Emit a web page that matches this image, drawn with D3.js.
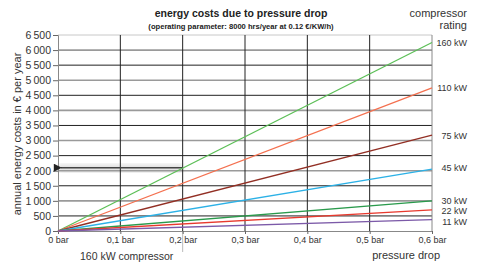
<!DOCTYPE html>
<html><head><meta charset="utf-8">
<script src="https://cdn.jsdelivr.net/npm/d3@7"></script>
<style>
html,body{margin:0;padding:0;background:#fff;}
svg{display:block;font-family:"Liberation Sans",Arial,Helvetica,sans-serif;}
</style></head>
<body>
<svg id="c" width="480" height="264"></svg>
<script>
// data
const pressures = [0, 0.6];                       // bar
const ratings = ["160 kW","110 kW","75 kW","45 kW","30 kW","22 kW","11 kW"];
const endCosts = [6250, 4750, 3180, 2050, 1000, 700, 375]; // € per year at 0.6 bar
const colors = ["#5cbf57","#f4704f","#922f24","#2cb1e6","#2a9a4c","#e83a2e","#7c5aa8"];
const xTicks = [0, 0.1, 0.2, 0.3, 0.4, 0.5, 0.6];
const xTickLabels = ["0 bar","0,1 bar","0,2 bar","0,3 bar","0,4 bar","0,5 bar","0,6 bar"];
const yTicks = [0,500,1000,1500,2000,2500,3000,3500,4000,4500,5000,5500,6000,6500];
const labelY = [6250, 4750, 3180, 2120, 1000, 680, 300]; // label anchor values
const arrowValue = 2100, arrowPressure = 0.2;

const svg = d3.select("#c");
const x = d3.scaleLinear().domain([0,0.6]).range([58,432]);
const y = d3.scaleLinear().domain([0,6500]).range([231,35]);
const fmt = v => v >= 1000 ? Math.floor(v/1000) + "\u2009" + String(v%1000).padStart(3,"0") : String(v);

// soft shading around the arrow
const defs = svg.append("defs");
defs.append("filter").attr("id","blur").append("feGaussianBlur").attr("stdDeviation",2.5);
svg.append("rect").attr("x", x(0)).attr("width", x(arrowPressure)-x(0))
  .attr("y", y(arrowValue)-3).attr("height", y(1950)-y(arrowValue)+3)
  .attr("fill","#ddd").attr("filter","url(#blur)");

// horizontal grid
svg.append("g").selectAll("line").data(yTicks.filter(v=>v>0)).join("line")
  .attr("x1", x(0)).attr("x2", x(0.6))
  .attr("y1", d=>y(d)).attr("y2", d=>y(d))
  .attr("stroke", d => d===6500 ? "#c8c8c8" : (d%1000===0 ? "#9a9a9a" : "#222"))
  .attr("stroke-width", d => d%1000===0 ? 1.6 : 1);

// vertical grid
svg.append("g").selectAll("line").data(xTicks.filter(v=>v>0)).join("line")
  .attr("x1", d=>x(d)).attr("x2", d=>x(d))
  .attr("y1", y(6500)).attr("y2", y(0))
  .attr("stroke", d => d===0.6 ? "#888" : "#222").attr("stroke-width", 1);

// tick extension below axis at 0.2 bar
svg.append("line").attr("x1", x(0.2)).attr("x2", x(0.2)).attr("y1", y(0)).attr("y2", 252)
  .attr("stroke","#bbb").attr("stroke-width",1);

// y axis
const yAxis = d3.axisLeft(y).tickValues(yTicks).tickFormat(fmt).tickSize(5).tickPadding(2);
const ya = svg.append("g").attr("transform",`translate(${x(0)},0)`).call(yAxis);
ya.select(".domain").attr("stroke","#888");
ya.selectAll(".tick line").attr("stroke","#666");
ya.selectAll("text").attr("fill","#333").style("font-size","10.5px").style("font-family","'Liberation Sans',Arial,sans-serif");

// x axis
const xAxis = d3.axisBottom(x).tickValues(xTicks).tickFormat((d,i)=>xTickLabels[i]).tickSize(3).tickPadding(3);
const xa = svg.append("g").attr("transform",`translate(0,${y(0)})`).call(xAxis);
xa.select(".domain").attr("stroke","#888");
xa.selectAll(".tick line").attr("stroke","#666");
xa.selectAll("text").attr("fill","#333").style("font-size","9px").style("font-family","'Liberation Sans',Arial,sans-serif");

// arrow
defs.append("marker").attr("id","ah").attr("viewBox","0 0 10 10")
  .attr("refX",1).attr("refY",5).attr("markerWidth",9).attr("markerHeight",8)
  .attr("markerUnits","userSpaceOnUse").attr("orient","auto")
  .append("path").attr("d","M10,0 L0,5 L10,10 Z").attr("fill","#222");
svg.append("line").attr("x1", x(arrowPressure)).attr("x2", x(0)+3)
  .attr("y1", y(arrowValue)).attr("y2", y(arrowValue))
  .attr("stroke","#444").attr("stroke-width",1.6).attr("marker-end","url(#ah)");

// series
const line = d3.line().x(d=>x(d[0])).y(d=>y(d[1]));
ratings.forEach((r,i)=>{
  const pts = pressures.map(p => [p, p===0 ? 0 : endCosts[i]]);
  svg.append("path").datum(pts).attr("d", line).attr("fill","none")
    .attr("stroke", colors[i]).attr("stroke-width", 1.3);
});

// right labels
svg.append("g").selectAll("text").data(ratings).join("text")
  .attr("x", 467).attr("y", (d,i)=>y(labelY[i])+3.5).attr("text-anchor","end")
  .attr("fill","#333").style("font-size","9px").text(d=>d);

// titles
svg.append("text").attr("x",241).attr("y",17).attr("text-anchor","middle")
  .style("font-weight","bold").style("font-size","10.5px").attr("fill","#222")
  .text("energy costs due to pressure drop");
svg.append("text").attr("x",241).attr("y",29).attr("text-anchor","middle")
  .style("font-weight","bold").style("font-size","7.6px").attr("fill","#222")
  .text("(operating parameter: 8000 hrs/year at 0.12 €/KW/h)");
svg.append("text").attr("x",467).attr("y",17).attr("text-anchor","end")
  .style("font-size","11px").attr("fill","#333").text("compressor");
svg.append("text").attr("x",467).attr("y",28.5).attr("text-anchor","end")
  .style("font-size","11px").attr("fill","#333").text("rating");
svg.append("text").attr("transform","translate(21,134) rotate(-90)").attr("text-anchor","middle")
  .style("font-size","11px").attr("fill","#333").text("annual energy costs in € per year");
svg.append("text").attr("x",80).attr("y",260)
  .style("font-size","10.5px").attr("fill","#333").text("160 kW compressor");
svg.append("text").attr("x",440).attr("y",259).attr("text-anchor","end")
  .style("font-size","11px").attr("fill","#333").text("pressure drop");
</script>
</body></html>
